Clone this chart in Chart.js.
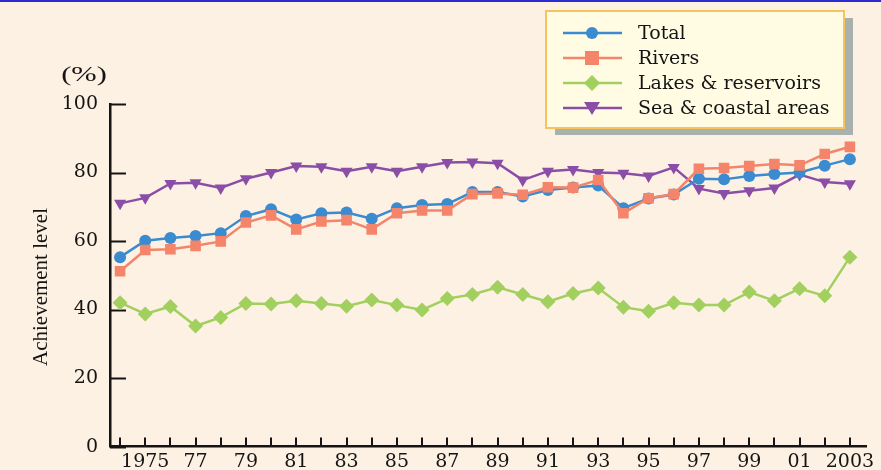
<!DOCTYPE html>
<html>
<head>
<meta charset="utf-8">
<script src="https://cdn.jsdelivr.net/npm/chart.js@4/dist/chart.umd.min.js"></script>
<style>
  html, body { margin: 0; padding: 0; background: #fdf1e3; }
  #wrap { position: relative; width: 881px; height: 470px; }
</style>
</head>
<body>
<div id="wrap"><canvas id="chart" width="881" height="470"></canvas></div>
<script>
// Data
const years = [1974, 1975, 1976, 1977, 1978, 1979, 1980, 1981, 1982, 1983,
               1984, 1985, 1986, 1987, 1988, 1989, 1990, 1991, 1992, 1993,
               1994, 1995, 1996, 1997, 1998, 1999, 2000, 2001, 2002, 2003];
const total  = [55.3, 60.1, 60.9, 61.5, 62.3, 67.3, 69.3, 66.3, 68.1, 68.3,
                66.5, 69.6, 70.5, 70.8, 74.3, 74.3, 73.0, 74.9, 75.6, 76.2,
                69.6, 72.4, 73.6, 78.2, 78.0, 79.0, 79.6, 80.0, 82.0, 83.9];
const rivers = [51.2, 57.4, 57.6, 58.6, 59.9, 65.4, 67.5, 63.4, 65.7, 66.1,
                63.4, 68.1, 68.9, 68.9, 73.7, 73.9, 73.5, 75.7, 75.6, 77.8,
                68.1, 72.5, 73.7, 81.1, 81.3, 81.9, 82.5, 82.1, 85.4, 87.5];
const lakes  = [42.0, 38.7, 40.9, 35.2, 37.7, 41.8, 41.6, 42.6, 41.8, 41.0,
                42.8, 41.3, 39.9, 43.2, 44.4, 46.5, 44.4, 42.3, 44.7, 46.3,
                40.7, 39.5, 42.0, 41.3, 41.3, 45.1, 42.6, 46.1, 44.0, 55.3];
const sea    = [71.0, 72.6, 76.8, 77.0, 75.5, 78.2, 80.0, 81.9, 81.7, 80.4,
                81.7, 80.4, 81.7, 82.9, 83.1, 82.7, 77.8, 80.4, 80.9, 80.0,
                79.8, 79.0, 81.5, 75.3, 73.9, 74.7, 75.5, 79.4, 77.2, 76.7];
const yTicks = [0, 20, 40, 60, 80, 100];

const seriesNames = ['Total', 'Rivers', 'Lakes & reservoirs', 'Sea & coastal areas'];
const BLUE = '#3a8bcf', ORANGE = '#f4846a', GREEN = '#a1d05e', PURPLE = '#8b4ea6';
const INK = '#141414';

function pts(values) {
  return years.map((yr, i) => ({ x: yr, y: values[i] }));
}

// draw one marker shape (used for the legend)
function marker(ctx, style, color, x, y) {
  ctx.save();
  ctx.fillStyle = color;
  ctx.beginPath();
  if (style === 'circle') {
    ctx.arc(x, y, 6, 0, Math.PI * 2);
  } else if (style === 'rect') {
    ctx.rect(x - 7, y - 7, 14, 14);
  } else if (style === 'rectRot') {
    ctx.moveTo(x, y - 8); ctx.lineTo(x + 8, y); ctx.lineTo(x, y + 8); ctx.lineTo(x - 8, y);
  } else {
    ctx.moveTo(x - 8, y - 6); ctx.lineTo(x + 8, y - 6); ctx.lineTo(x, y + 7);
  }
  ctx.closePath();
  ctx.fill();
  ctx.restore();
}

const decorPlugin = {
  id: 'decor',
  beforeDraw(chart) {
    const ctx = chart.ctx;
    ctx.save();
    ctx.fillStyle = '#fdf1e3';
    ctx.fillRect(0, 0, chart.width, chart.height);
    ctx.fillStyle = '#2b2bd0';
    ctx.fillRect(0, 0, chart.width, 2);
    ctx.restore();
  },
  beforeDatasetsDraw(chart) {
    const ctx = chart.ctx;
    const xs = chart.scales.x, ys = chart.scales.y;
    const area = chart.chartArea;
    ctx.save();
    ctx.strokeStyle = INK;
    ctx.lineWidth = 2;
    // inward ticks on the y axis
    yTicks.forEach(v => {
      const py = Math.round(ys.getPixelForValue(v)) + 0.5;
      ctx.beginPath();
      ctx.moveTo(area.left, py);
      ctx.lineTo(area.left + 16, py);
      ctx.stroke();
    });
    // inward ticks on the x axis
    years.forEach(yr => {
      const px = Math.round(xs.getPixelForValue(yr));
      ctx.beginPath();
      ctx.moveTo(px, area.bottom);
      ctx.lineTo(px, area.bottom - 9);
      ctx.stroke();
    });
    // unit label (wide, like the reference) and axis title
    ctx.fillStyle = INK;
    ctx.textAlign = 'center';
    ctx.textBaseline = 'middle';
    ctx.save();
    ctx.translate(84, 75);
    ctx.scale(1.45, 1);
    ctx.font = '21px "Liberation Serif", serif';
    ctx.fillText('(%)', 0, 0);
    ctx.restore();
    ctx.translate(41, 287);
    ctx.rotate(-Math.PI / 2);
    ctx.font = '21px "Liberation Serif", serif';
    ctx.fillText('Achievement level', 0, 0);
    ctx.restore();
  },
  afterDraw(chart) {
    const ctx = chart.ctx;
    const bx = 546, by = 11, bw = 298, bh = 117;
    ctx.save();
    // shadow
    ctx.fillStyle = '#a9b1ae';
    ctx.fillRect(bx + 9, by + 7, bw, bh);
    // box
    ctx.fillStyle = '#fffce3';
    ctx.fillRect(bx, by, bw, bh);
    ctx.strokeStyle = '#f8c35a';
    ctx.lineWidth = 2;
    ctx.strokeRect(bx, by, bw, bh);
    // entries
    const styles = ['circle', 'rect', 'rectRot', 'triangle'];
    const colors = [BLUE, ORANGE, GREEN, PURPLE];
    const rowY = [33, 58, 83, 108];
    ctx.font = '19px "DejaVu Serif", serif';
    ctx.textAlign = 'left';
    ctx.textBaseline = 'middle';
    seriesNames.forEach((name, i) => {
      ctx.strokeStyle = colors[i];
      ctx.lineWidth = 2.5;
      ctx.beginPath();
      ctx.moveTo(563, rowY[i]);
      ctx.lineTo(622, rowY[i]);
      ctx.stroke();
      marker(ctx, styles[i], colors[i], 592, rowY[i]);
      ctx.fillStyle = INK;
      ctx.fillText(name, 638, rowY[i] + 1);
    });
    ctx.restore();
  }
};

function ds(label, values, color, style, radius, order, rotation) {
  return {
    label: label,
    data: pts(values),
    borderColor: color,
    backgroundColor: color,
    borderWidth: 2.5,
    pointStyle: style,
    pointRadius: radius,
    pointRotation: rotation || 0,
    pointBorderWidth: 0,
    order: order,
    tension: 0
  };
}

new Chart(document.getElementById('chart'), {
  type: 'line',
  data: {
    datasets: [
      ds(seriesNames[0], total, BLUE, 'circle', 6, 1),
      ds(seriesNames[1], rivers, ORANGE, 'rect', 7.5, 0),
      ds(seriesNames[2], lakes, GREEN, 'rectRot', 7.5, 3),
      ds(seriesNames[3], sea, PURPLE, 'triangle', 7, 2, 180)
    ]
  },
  options: {
    responsive: false,
    animation: false,
    layout: { padding: { left: 0, top: 104, right: 15, bottom: 0 } },
    plugins: {
      legend: { display: false },
      tooltip: { enabled: false }
    },
    scales: {
      x: {
        type: 'linear',
        min: 1973.6,
        max: 2003.64,
        afterFit: s => { s.height = 23; },
        afterBuildTicks: s => { s.ticks = years.map(v => ({ value: v })); },
        grid: { display: false, drawTicks: false },
        border: { display: true, color: INK, width: 2.5 },
        ticks: {
          autoSkip: false,
          maxRotation: 0,
          padding: 4,
          color: INK,
          font: { family: '"DejaVu Serif", serif', size: 19 },
          callback: v => {
            if (v % 2 === 0) return '';
            if (v === 1975 || v === 2003) return String(v);
            return String(v).slice(2);
          }
        }
      },
      y: {
        min: 0,
        max: 100,
        afterFit: s => { s.width = 110; },
        afterBuildTicks: s => { s.ticks = yTicks.map(v => ({ value: v })); },
        grid: { display: false, drawTicks: false },
        border: { display: true, color: INK, width: 2.5 },
        ticks: {
          padding: 12,
          color: INK,
          font: { family: '"DejaVu Serif", serif', size: 19 }
        }
      }
    }
  },
  plugins: [decorPlugin]
});
</script>
</body>
</html>
